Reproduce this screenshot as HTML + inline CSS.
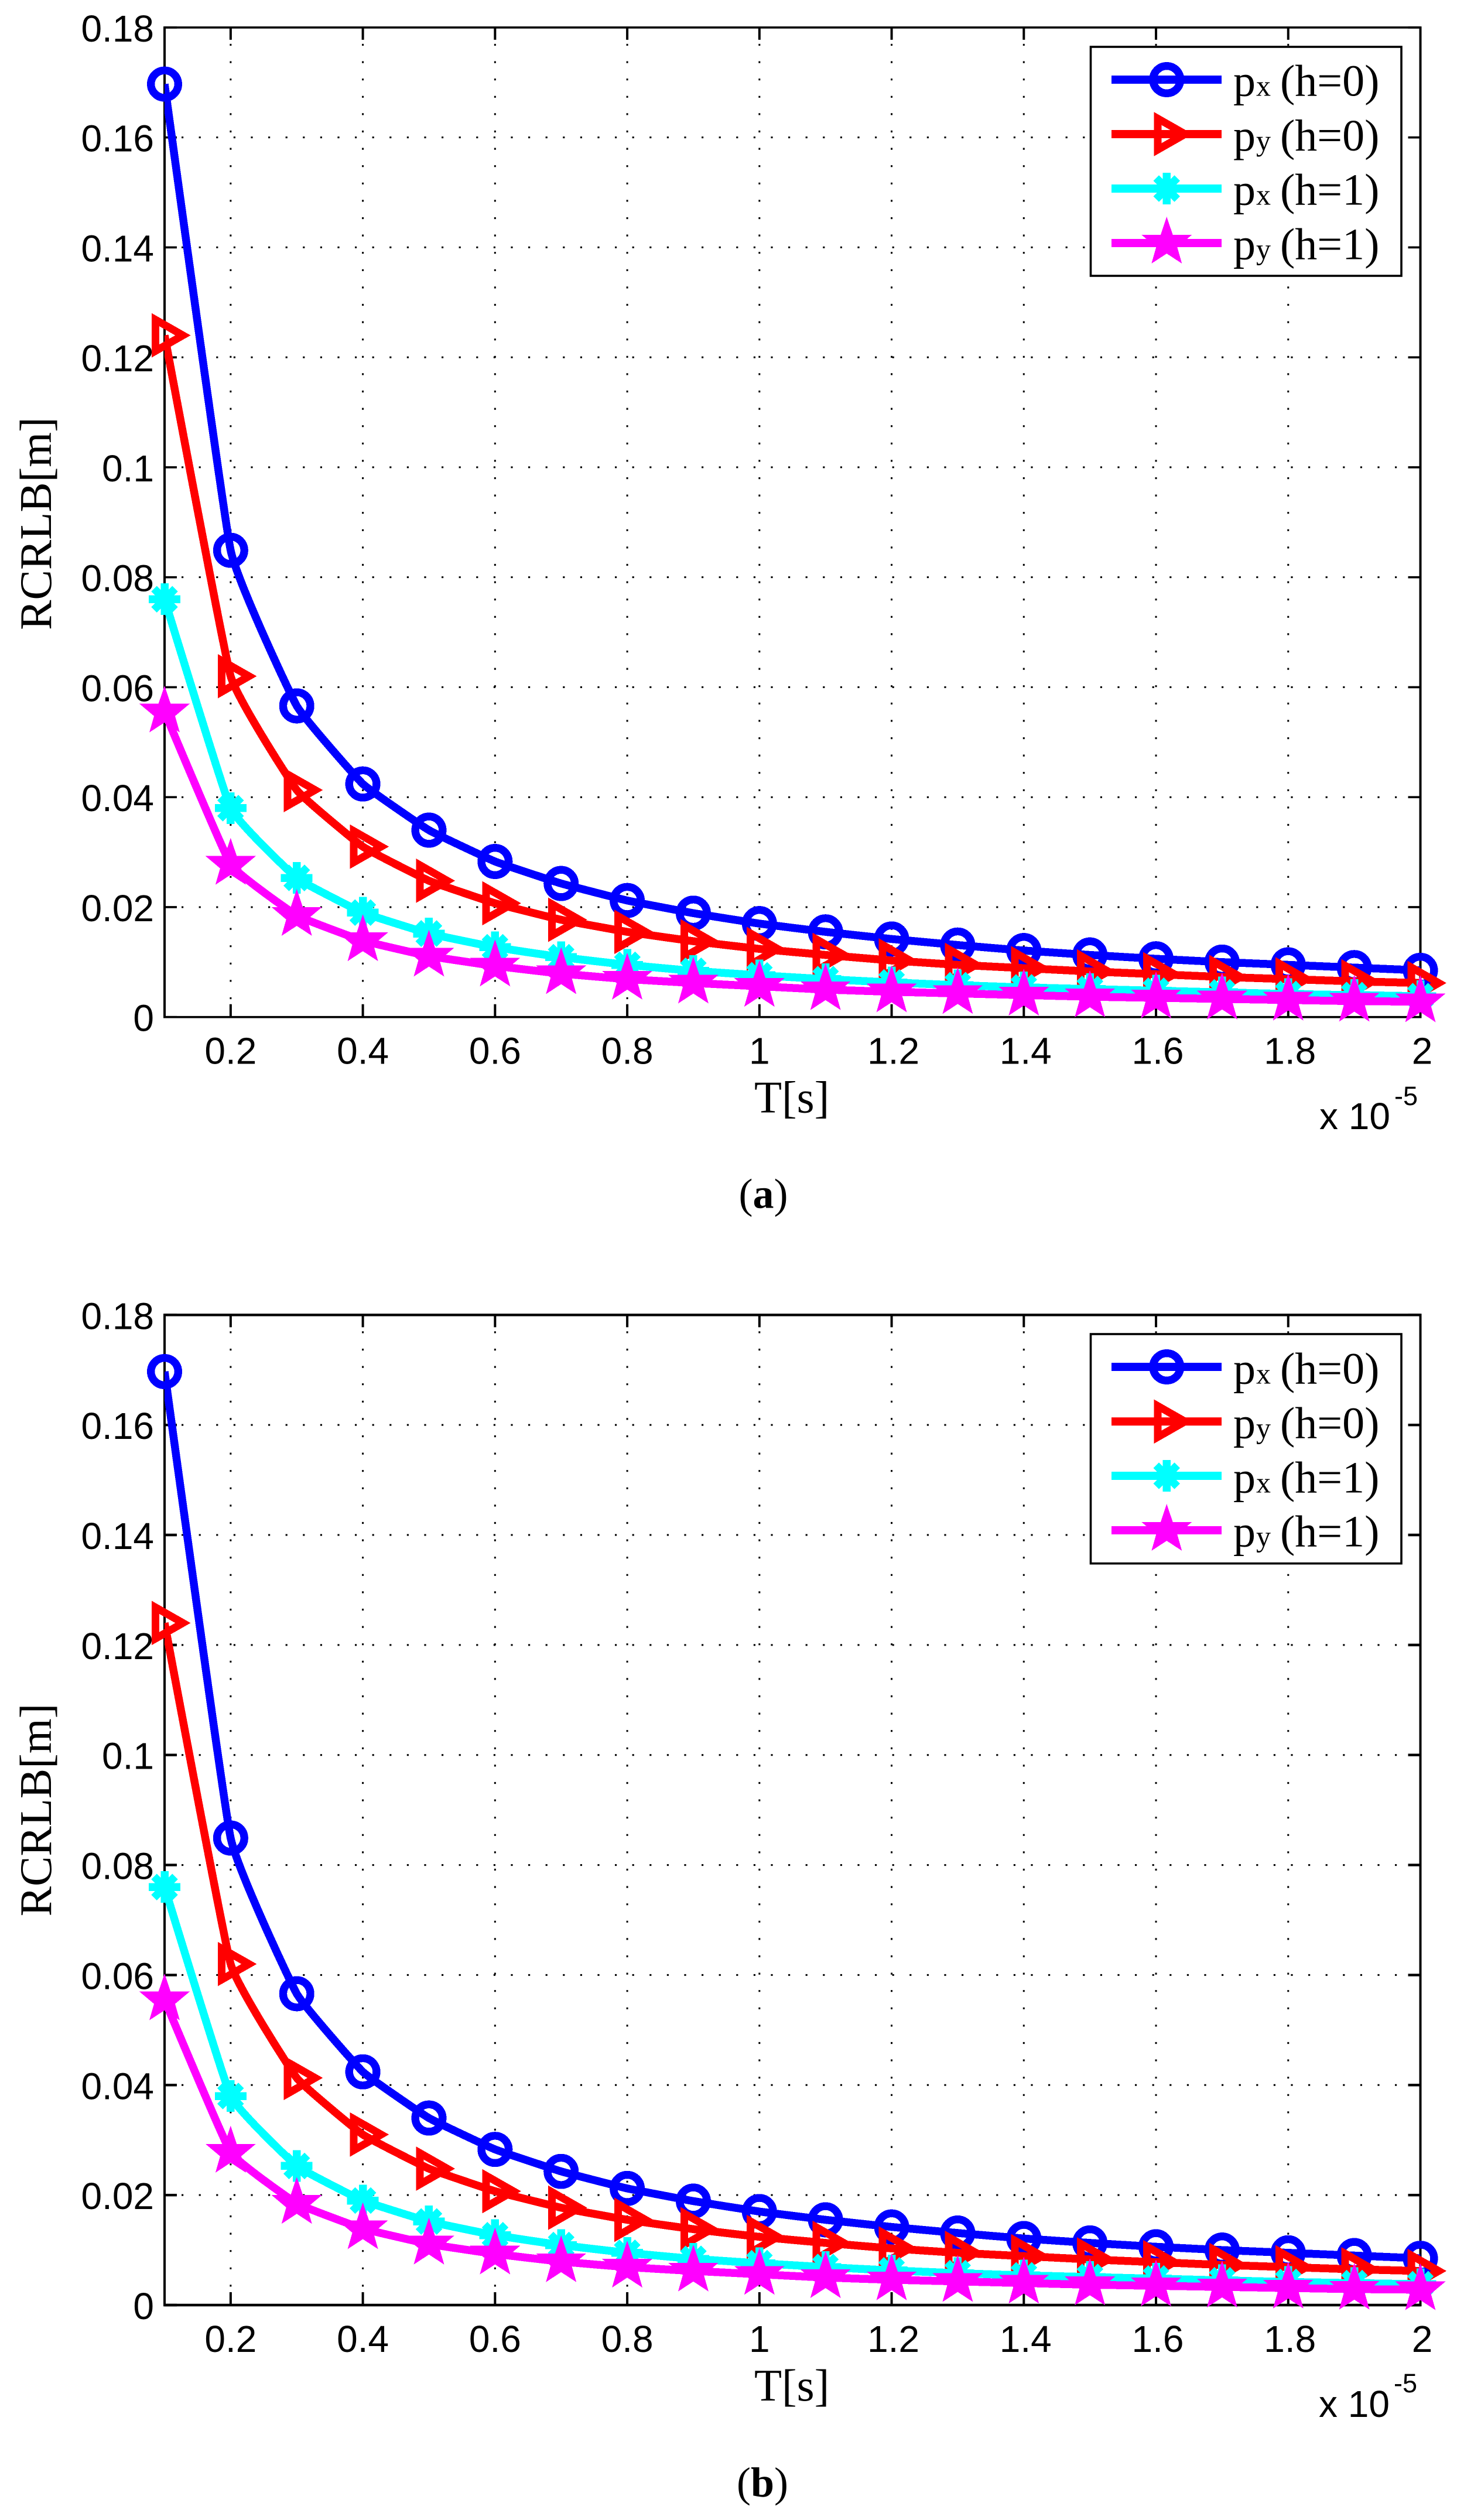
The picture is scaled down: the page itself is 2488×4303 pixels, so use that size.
<!DOCTYPE html>
<html lang="en">
<head>
<meta charset="utf-8">
<title>RCRLB versus T</title>
<style>
html,body{margin:0;padding:0;background:#fff;}
svg{display:block;}
.sans{font-family:"Liberation Sans",Arial,sans-serif;fill:#000;}
.serif{font-family:"Liberation Serif","Times New Roman",serif;fill:#000;}
</style>
</head>
<body>
<svg id="figure" xmlns="http://www.w3.org/2000/svg" width="2488" height="4303" viewBox="0 0 2488 4303">
  <rect x="0" y="0" width="2488" height="4303" fill="#fff"/>

  <g id="panel-a">
    <g id="panel-a-plot"></g>
    <text class="serif" font-size="77" text-anchor="middle" transform="translate(87 894) rotate(-90)">RCRLB[m]</text>
    <text class="serif" font-size="77" x="1288" y="1899.5">T[s]</text>
    <text class="sans" font-size="64" x="2253" y="1928">x 10</text>
    <text class="sans" font-size="45" x="2381" y="1887">-5</text>
    <g id="panel-a-legend">
      <rect x="1862.5" y="80" width="530.5" height="391" fill="#fff" stroke="#000" stroke-width="3.6"/>
      <g id="panel-a-legend-keys"></g>
      <g class="serif" font-size="76"><text x="2106" y="163.3">p</text><text x="2145" y="163.3" font-size="50">x</text><text x="2186" y="163.3">(h=0)</text></g>
      <g class="serif" font-size="76"><text x="2106" y="257">p</text><text x="2145" y="257" font-size="50">y</text><text x="2186" y="257">(h=0)</text></g>
      <g class="serif" font-size="76"><text x="2106" y="349.3">p</text><text x="2145" y="349.3" font-size="50">x</text><text x="2186" y="349.3">(h=1)</text></g>
      <g class="serif" font-size="76"><text x="2106" y="442.7">p</text><text x="2145" y="442.7" font-size="50">y</text><text x="2186" y="442.7">(h=1)</text></g>
    </g>
    <text class="serif" font-size="72" x="1261.5" y="2062.7">(<tspan font-weight="bold">a</tspan>)</text>
  </g>

  <g id="panel-b">
    <g id="panel-b-plot"></g>
    <text class="serif" font-size="77" text-anchor="middle" transform="translate(87 3090.5) rotate(-90)">RCRLB[m]</text>
    <text class="serif" font-size="77" x="1288" y="4099">T[s]</text>
    <text class="sans" font-size="64" x="2252" y="4127">x 10</text>
    <text class="sans" font-size="45" x="2380" y="4085">-5</text>
    <g id="panel-b-legend">
      <rect x="1862.5" y="2278" width="530.5" height="391.7" fill="#fff" stroke="#000" stroke-width="3.6"/>
      <g id="panel-b-legend-keys"></g>
      <g class="serif" font-size="76"><text x="2106" y="2362.3">p</text><text x="2145" y="2362.3" font-size="50">x</text><text x="2186" y="2362.3">(h=0)</text></g>
      <g class="serif" font-size="76"><text x="2106" y="2455.7">p</text><text x="2145" y="2455.7" font-size="50">y</text><text x="2186" y="2455.7">(h=0)</text></g>
      <g class="serif" font-size="76"><text x="2106" y="2548.3">p</text><text x="2145" y="2548.3" font-size="50">x</text><text x="2186" y="2548.3">(h=1)</text></g>
      <g class="serif" font-size="76"><text x="2106" y="2640.7">p</text><text x="2145" y="2640.7" font-size="50">y</text><text x="2186" y="2640.7">(h=1)</text></g>
    </g>
    <text class="serif" font-size="72" x="1258" y="4263">(<tspan font-weight="bold">b</tspan>)</text>
  </g>
</svg>

<script>
// Shared axis data
const xCategories = [0.1,0.2,0.3,0.4,0.5,0.6,0.7,0.8,0.9,1.0,1.1,1.2,1.3,1.4,1.5,1.6,1.7,1.8,1.9,2.0];
const xTickValues = [0.2,0.4,0.6,0.8,1,1.2,1.4,1.6,1.8,2];
const xTickLabels = ['0.2','0.4','0.6','0.8','1','1.2','1.4','1.6','1.8','2'];
const yTickValues = [0,0.02,0.04,0.06,0.08,0.1,0.12,0.14,0.16,0.18];
const yTickLabels = ['0','0.02','0.04','0.06','0.08','0.1','0.12','0.14','0.16','0.18'];

// Panel (a) series values
const panelAPxH0 = [0.1697,0.0849,0.0566,0.0424,0.0340,0.0283,0.0243,0.0212,0.0189,0.0170,0.0155,0.0142,0.0131,0.0121,0.0113,0.0106,0.0100,0.0095,0.0090,0.0085];
const panelAPyH0 = [0.1240,0.0620,0.0413,0.0310,0.0248,0.0207,0.0177,0.0155,0.0138,0.0124,0.0113,0.0103,0.0095,0.0089,0.0083,0.0078,0.0073,0.0069,0.0065,0.0062];
const panelAPxH1 = [0.0760,0.0380,0.0253,0.0190,0.0152,0.0127,0.0109,0.0095,0.0084,0.0076,0.0069,0.0063,0.0058,0.0054,0.0051,0.0048,0.0045,0.0042,0.0040,0.0038];
const panelAPyH1 = [0.0555,0.0278,0.0185,0.0139,0.0111,0.0093,0.0079,0.0069,0.0062,0.0056,0.0050,0.0046,0.0043,0.0040,0.0037,0.0035,0.0033,0.0031,0.0029,0.0028];

// Panel (b) series values
const panelBPxH0 = [0.1697,0.0849,0.0566,0.0424,0.0340,0.0283,0.0243,0.0212,0.0189,0.0170,0.0155,0.0142,0.0131,0.0121,0.0113,0.0106,0.0100,0.0095,0.0090,0.0085];
const panelBPyH0 = [0.1240,0.0620,0.0413,0.0310,0.0248,0.0207,0.0177,0.0155,0.0138,0.0124,0.0113,0.0103,0.0095,0.0089,0.0083,0.0078,0.0073,0.0069,0.0065,0.0062];
const panelBPxH1 = [0.0760,0.0380,0.0253,0.0190,0.0152,0.0127,0.0109,0.0095,0.0084,0.0076,0.0069,0.0063,0.0058,0.0054,0.0051,0.0048,0.0045,0.0042,0.0040,0.0038];
const panelBPyH1 = [0.0555,0.0278,0.0185,0.0139,0.0111,0.0093,0.0079,0.0069,0.0062,0.0056,0.0050,0.0046,0.0043,0.0040,0.0037,0.0035,0.0033,0.0031,0.0029,0.0028];

const NS = 'http://www.w3.org/2000/svg';

function make(tag, attrs, parent) {
  const el = document.createElementNS(NS, tag);
  for (const k in attrs) el.setAttribute(k, attrs[k]);
  parent.appendChild(el);
  return el;
}

function drawMarker(parent, kind, cx, cy, color) {
  const g = make('g', {transform: 'translate(' + cx + ' ' + cy + ')', 'shape-rendering': 'crispEdges'}, parent);
  
  
  if (kind === 'circle') {
    make('circle', {cx: 0, cy: 0, r: 23.3, fill: 'none', stroke: color, 'stroke-width': 13.4}, g);
  } else if (kind === 'triangle') {
    make('path', {d: 'M-15.5 -26.7L31.4 0L-15.5 26.7Z', fill: 'none', stroke: color, 'stroke-width': 13, 'stroke-linejoin': 'miter', 'stroke-miterlimit': 10}, g);
  } else if (kind === 'asterisk') {
    make('path', {d: 'M0 -27V27M-27 0H27M-18 -18L18 18M-18 18L18 -18', fill: 'none', stroke: color, 'stroke-width': 13.5}, g);
  } else {
    make('path', {d: 'M0 -45L10.4 -14L43 -14L18 7L26 35L0 18L-26 35L-18 7L-43 -14L-10.4 -14Z', fill: color, stroke: 'none'}, g);
  }
  return g;
}

function smoothPath(pts) {
  const k = 0.05;
  let d = 'M' + pts[0][0] + ' ' + pts[0][1];
  for (let i = 0; i < pts.length - 1; i++) {
    const p0 = pts[Math.max(i - 1, 0)];
    const p1 = pts[i];
    const p2 = pts[i + 1];
    const p3 = pts[Math.min(i + 2, pts.length - 1)];
    const c1x = p1[0] + (p2[0] - p0[0]) * k;
    const c1y = p1[1] + (p2[1] - p0[1]) * k;
    const c2x = p2[0] - (p3[0] - p1[0]) * k;
    const c2y = p2[1] - (p3[1] - p1[1]) * k;
    d += 'C' + c1x + ' ' + c1y + ' ' + c2x + ' ' + c2y + ' ' + p2[0] + ' ' + p2[1];
  }
  return d;
}

function drawPanel(cfg) {
  const root = document.getElementById(cfg.id + '-plot');
  const xL = 281, xR = 2425.5, yT = cfg.top, yB = cfg.bottom;
  const xScale = function (v) { return xL + (v - 0.1) / 1.9 * (xR - xL); };
  const yScale = function (v) { return yB - v / 0.18 * (yB - yT); };

  const clip = make('clipPath', {id: cfg.id + '-clip'}, root);
  make('rect', {x: xL, y: yT, width: xR - xL, height: yB - yT}, clip);

  // grid
  const grid = make('g', {stroke: '#000', 'stroke-width': 3, 'stroke-dasharray': '3.2 26.4'}, root);
  
  
  xTickValues.forEach(function (v) {
    if (v >= 2) return;
    const line = make('line', {x1: xScale(v), x2: xScale(v), y1: yT, y2: yB, 'stroke-dashoffset': 1.6}, grid);
    
    
  });
  yTickValues.forEach(function (v) {
    if (v <= 0 || v >= 0.18) return;
    const line = make('line', {x1: xL, x2: xR, y1: yScale(v), y2: yScale(v), 'stroke-dashoffset': 0.6}, grid);
    
    
  });

  // ticks
  const ticks = make('g', {stroke: '#000', fill: 'none'}, root);
  
  
  xTickValues.forEach(function (v) {
    const x = xScale(v);
    const bottomTick = make('line', {x1: x, x2: x, y1: yB, y2: yB - 22, 'stroke-width': 4}, ticks);
    
    
    const topTick = make('line', {x1: x, x2: x, y1: yT, y2: yT + 21, 'stroke-width': 4}, ticks);
    
    
  });
  yTickValues.forEach(function (v) {
    const y = yScale(v);
    const leftTick = make('line', {x1: xL, x2: xL + 21, y1: y, y2: y, 'stroke-width': cfg.hw}, ticks);
    
    
    const rightTick = make('line', {x1: xR, x2: xR - 21, y1: y, y2: y, 'stroke-width': cfg.hw}, ticks);
    
    
  });

  // axes frame
  const frame = make('g', {stroke: '#000', fill: 'none'}, root);
  
  
  make('line', {x1: xL - 2, x2: xR + 2, y1: yT, y2: yT, 'stroke-width': cfg.hw}, frame);
  make('line', {x1: xL - 2, x2: xR + 2, y1: yB, y2: yB, 'stroke-width': cfg.hw}, frame);
  make('line', {x1: xL, x2: xL, y1: yT, y2: yB, 'stroke-width': 4}, frame);
  make('line', {x1: xR, x2: xR, y1: yT, y2: yB, 'stroke-width': 4}, frame);

  // tick labels
  xTickValues.forEach(function (v, i) {
    const t = make('text', {x: xScale(v) + (v >= 1.1 ? 3 : 0), y: yB + 80, 'text-anchor': 'middle', 'font-size': 64, 'class': 'sans'}, root);
    
    
    t.textContent = xTickLabels[i];
  });
  yTickValues.forEach(function (v, i) {
    const t = make('text', {x: 263, y: yScale(v) + 24, 'text-anchor': 'end', 'font-size': 64, 'class': 'sans'}, root);
    
    
    t.textContent = yTickLabels[i];
  });

  // series
  cfg.series.forEach(function (s) {
    const g = make('g', {}, root);
    
    
    const pts = xCategories.map(function (x, i) { return [xScale(x), yScale(s.values[i])]; });
    const line = make('path', {d: smoothPath(pts), fill: 'none', stroke: s.color, 'stroke-width': 13.5, 'stroke-linejoin': 'round', 'shape-rendering': 'crispEdges', 'clip-path': 'url(#' + cfg.id + '-clip)'}, g);
    
    
    pts.forEach(function (p) { drawMarker(g, s.kind, p[0], p[1], s.color); });
  });

  // legend keys
  const keys = document.getElementById(cfg.id + '-legend-keys');
  cfg.series.forEach(function (s, i) {
    const y = cfg.legendY[i];
    const key = make('g', {}, keys);
    
    
    make('line', {x1: 1898, x2: 2086, y1: y, y2: y, stroke: s.color, 'stroke-width': 14}, key);
    drawMarker(key, s.kind, 1992.3, y, s.color);
  });
}

drawPanel({
  id: 'panel-a', top: 46.9, bottom: 1736.7, hw: 3.6,
  legendY: [136, 229, 322, 415],
  series: [
    {name: 'px-h0', kind: 'circle', color: '#0000ff', values: panelAPxH0},
    {name: 'py-h0', kind: 'triangle', color: '#ff0000', values: panelAPyH0},
    {name: 'px-h1', kind: 'asterisk', color: '#00ffff', values: panelAPxH1},
    {name: 'py-h1', kind: 'star', color: '#ff00ff', values: panelAPyH1}
  ]
});
drawPanel({
  id: 'panel-b', top: 2245.3, bottom: 3936, hw: 4.4,
  legendY: [2334, 2427.3, 2520, 2613],
  series: [
    {name: 'px-h0', kind: 'circle', color: '#0000ff', values: panelBPxH0},
    {name: 'py-h0', kind: 'triangle', color: '#ff0000', values: panelBPyH0},
    {name: 'px-h1', kind: 'asterisk', color: '#00ffff', values: panelBPxH1},
    {name: 'py-h1', kind: 'star', color: '#ff00ff', values: panelBPyH1}
  ]
});
</script>
</body>
</html>
